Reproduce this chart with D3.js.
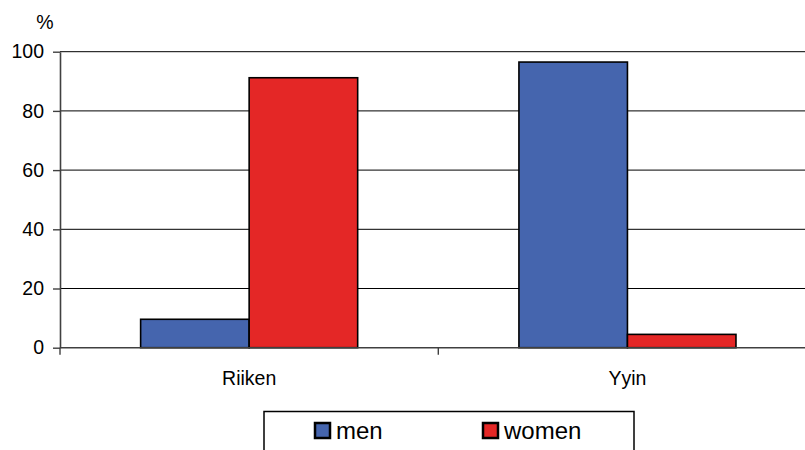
<!DOCTYPE html>
<html>
<head>
<meta charset="utf-8">
<script src="https://cdn.jsdelivr.net/npm/d3@7"></script>
<style>
  body { margin: 0; background: #fff; }
  svg { display: block; font-family: "Liberation Sans", Arial, sans-serif; }
</style>
</head>
<body>
<div id="chart"></div>
<script>
// data
var categories = ["Riiken", "Yyin"];
var seriesNames = ["men", "women"];
var menValues = [9.6, 96.5];
var womenValues = [91.2, 4.5];
var yTicks = [0, 20, 40, 60, 80, 100];
var colors = ["#4565ae", "#e42726"];

var W = 805, H = 450;
var plot = {left: 60, right: 816.6, top: 51.7, bottom: 347.7};

var svg = d3.select("#chart")
  .append("svg")
    .attr("width", W)
    .attr("height", H);

var data = categories.map(function(c, i) {
  return {cat: c, values: [menValues[i], womenValues[i]]};
});

var x0 = d3.scaleBand()
    .domain(categories)
    .range([plot.left, plot.right])
    .padding(0);

var x1 = d3.scaleBand()
    .domain(seriesNames)
    .range([0, x0.bandwidth()])
    .paddingInner(0)
    .paddingOuter(0.743);

var y = d3.scaleLinear()
    .domain([0, 100])
    .range([plot.bottom, plot.top]);

// gridlines
svg.append("g")
  .selectAll("line")
  .data(yTicks.filter(function(d) { return d > 0; }))
  .enter().append("line")
    .attr("x1", plot.left)
    .attr("x2", plot.right)
    .attr("y1", function(d) { return y(d); })
    .attr("y2", function(d) { return y(d); })
    .attr("stroke", "#000")
    .attr("stroke-width", 1);

// bars
var groups = svg.append("g")
  .selectAll("g")
  .data(data)
  .enter().append("g")
    .attr("transform", function(d) { return "translate(" + x0(d.cat) + ",0)"; });

groups.selectAll("rect")
  .data(function(d) { return d.values.map(function(v, i) { return {key: seriesNames[i], value: v, i: i}; }); })
  .enter().append("rect")
    .attr("x", function(d) { return x1(d.key); })
    .attr("y", function(d) { return y(d.value); })
    .attr("width", x1.bandwidth())
    .attr("height", function(d) { return y(0) - y(d.value); })
    .attr("fill", function(d) { return colors[d.i]; })
    .attr("stroke", "#000")
    .attr("stroke-width", 1.6);

// y axis
var yAxis = svg.append("g")
  .attr("transform", "translate(" + plot.left + ",0)")
  .call(d3.axisLeft(y).tickValues(yTicks).tickSize(7).tickPadding(9).tickSizeOuter(0));
yAxis.select(".domain").attr("stroke", "#404040").attr("stroke-width", 1.6);
yAxis.selectAll(".tick line").attr("stroke", "#404040").attr("stroke-width", 1.4);
yAxis.selectAll("text")
  .attr("fill", "#000")
  .style("font-size", "19.5px")
  .style("font-family", "Liberation Sans, Arial, sans-serif");

// x axis
var xAxis = svg.append("g")
  .attr("transform", "translate(0," + plot.bottom + ")");
xAxis.append("line")
  .attr("x1", plot.left).attr("x2", plot.right)
  .attr("stroke", "#404040").attr("stroke-width", 1.6);
xAxis.selectAll("line.tk")
  .data(categories.map(function(c) { return x0(c); }).concat([plot.right]))
  .enter().append("line")
    .attr("class", "tk")
    .attr("x1", function(d) { return d; })
    .attr("x2", function(d) { return d; })
    .attr("y1", 0).attr("y2", 7)
    .attr("stroke", "#404040").attr("stroke-width", 1.4);
xAxis.selectAll("text")
  .data(categories)
  .enter().append("text")
    .attr("x", function(d) { return x0(d) + x0.bandwidth() / 2; })
    .attr("y", 37)
    .attr("text-anchor", "middle")
    .style("font-size", "19.5px")
    .text(function(d) { return d; });

// unit label
svg.append("text")
  .attr("x", 45)
  .attr("y", 29)
  .attr("text-anchor", "middle")
  .style("font-size", "19.5px")
  .text("%");

// legend
var legend = svg.append("g");
legend.append("rect")
  .attr("x", 264).attr("y", 411.5)
  .attr("width", 370).attr("height", 60)
  .attr("fill", "#fff")
  .attr("stroke", "#000")
  .attr("stroke-width", 1.5);

var legendX = [315, 483];
var items = legend.selectAll("g.item")
  .data(seriesNames)
  .enter().append("g")
    .attr("class", "item")
    .attr("transform", function(d, i) { return "translate(" + legendX[i] + ",423)"; });
items.append("rect")
  .attr("width", 15).attr("height", 15)
  .attr("fill", function(d, i) { return colors[i]; })
  .attr("stroke", "#000")
  .attr("stroke-width", 2.5);
items.append("text")
  .attr("x", 21)
  .attr("y", 16)
  .style("font-size", "24px")
  .text(function(d) { return d; });
</script>
</body>
</html>
